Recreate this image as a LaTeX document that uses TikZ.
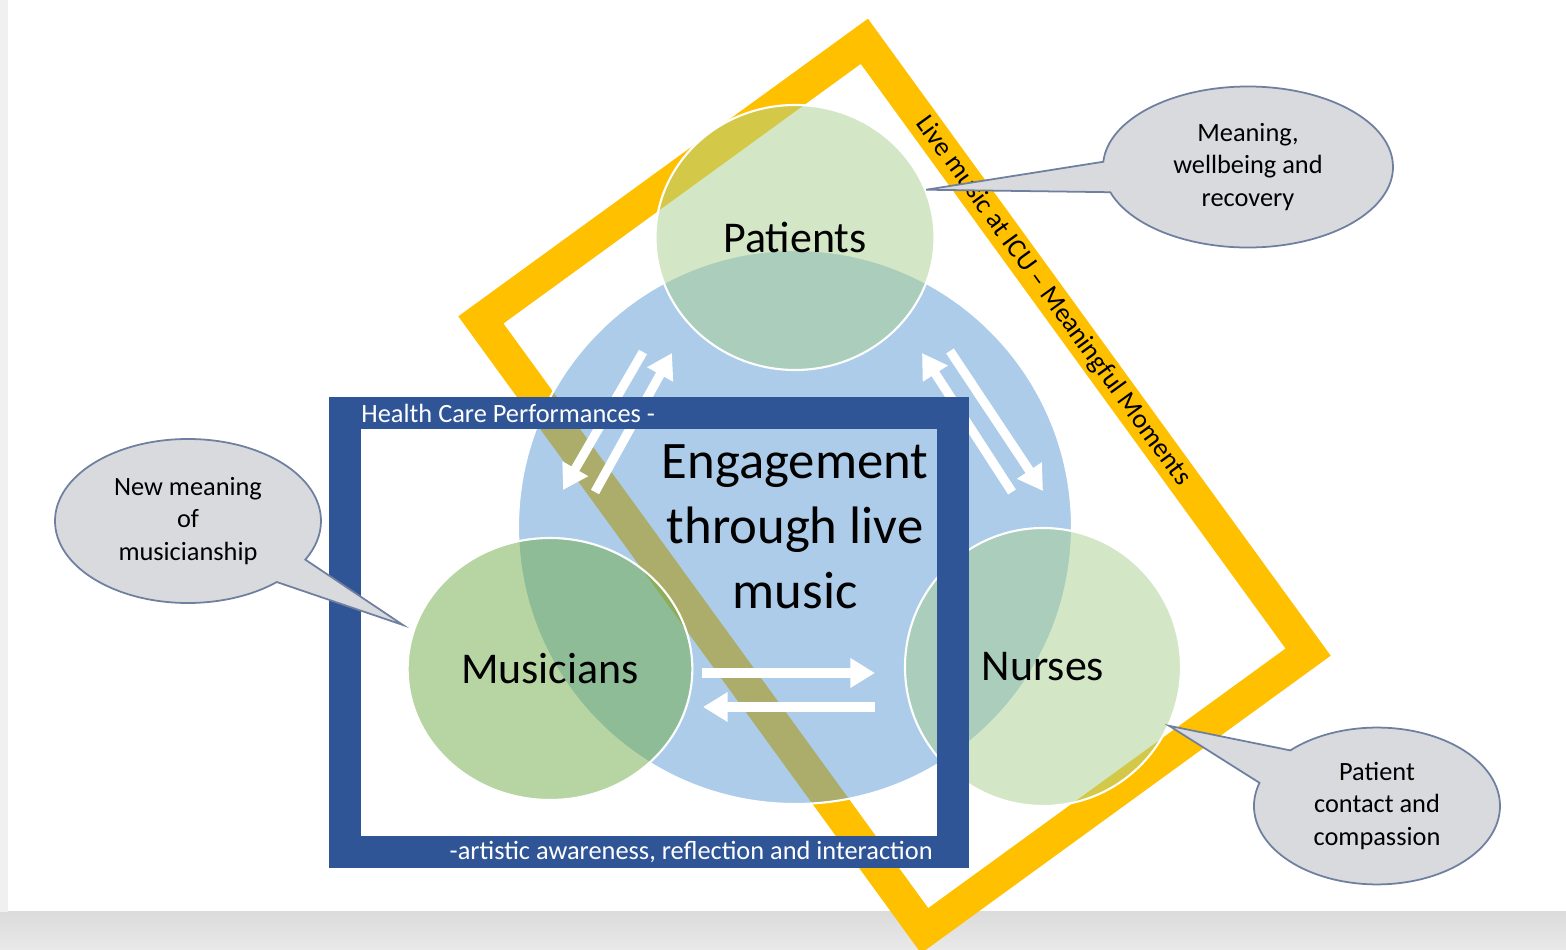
\documentclass[tikz,border=0pt]{standalone}
\usepackage{fontspec}
\setmainfont{Carlito}
\usetikzlibrary{arrows.meta,calc,shapes.geometric,shapes.callouts}

\definecolor{bandyellow}{HTML}{FFC000}
\definecolor{engageblue}{HTML}{5B9BD5}
\definecolor{palegreen}{HTML}{A9D18E}
\definecolor{deepgreen}{HTML}{70AD47}
\definecolor{hcnavy}{HTML}{2F5597}
\definecolor{bubblefill}{HTML}{D9DADD}
\definecolor{bubbleline}{HTML}{6E7FA0}

\begin{document}
\begin{tikzpicture}[
  actor/.style={ellipse, draw=white, line width=.6pt, fill opacity=.5, text opacity=1, font=\fontsize{12.5}{15}\selectfont},
  bubble/.style={ellipse callout, draw=bubbleline, line width=.5pt, fill=bubblefill, align=center, font=\fontsize{7.5}{9.25}\selectfont},
  flow/.style={white, line width=2.6pt, -{Triangle[width=8pt,length=7pt]}},
  smalltext/.style={font=\fontsize{7.5}{9}\selectfont}
]

\useasboundingbox (0,0) rectangle (15.66cm,-9.5cm);
\fill [white] (0,0) rectangle (15.66cm,-9.5cm);
\shade [top color=gray!28, bottom color=gray!17] (0,-9.12cm) rectangle (15.66cm,-9.5cm);
\fill [gray!12] (0,0) rectangle (.08cm,-9.12cm);

%-----------------------------------------------------
% ICU frame
\node (icuframe) at(8.945cm,-4.86cm) [draw=bandyellow, line width=9.2pt, outer sep=0pt, minimum width=7.55cm, minimum height=4.74cm, rotate=-54]{};
\node (icutext) at($(icuframe.north)!.15!(icuframe.north west)$) [rotate=-54, font=\fontsize{7.7}{9}\selectfont] {Live music at ICU -- Meaningful Moments};

%-----------------------------------------------------
\node (engage) at(7.95cm,-5.27cm) [circle, minimum size=5.54cm, fill=engageblue, fill opacity=.5, text opacity=1, draw=white, line width=.6pt, align=center, font=\fontsize{15}{18.5}\selectfont] {Engagement\\through live\\music};

\node (patients) at(7.95cm,-2.375cm) [actor, fill=palegreen, minimum width=2.79cm, minimum height=2.65cm] {Patients};
\node (musicians) at(5.50cm,-6.69cm) [actor, fill=deepgreen, minimum width=2.75cm, minimum height=2.62cm] {Musicians};
\node (nurses) at(10.43cm,-6.67cm) [actor, fill=palegreen, minimum width=2.76cm, minimum height=2.78cm] {Nurses};

%-----------------------------------------------------
\coordinate (pmtop) at(6.43cm,-3.52cm);
\coordinate (pmbot) at(5.63cm,-4.90cm);
\coordinate (mptail) at(5.95cm,-4.92cm);
\coordinate (mphead) at(6.72cm,-3.53cm);
\draw [flow] (pmtop) -- (pmbot);
\draw [flow] (mptail) -- (mphead);

\coordinate (nptail) at(10.12cm,-4.92cm);
\coordinate (nphead) at(9.22cm,-3.53cm);
\coordinate (pntail) at(9.50cm,-3.51cm);
\coordinate (pnhead) at(10.43cm,-4.91cm);
\draw [flow] (nptail) -- (nphead);
\draw [flow] (pntail) -- (pnhead);

\coordinate (mntail) at(7.02cm,-6.73cm);
\coordinate (mnhead) at(8.75cm,-6.73cm);
\coordinate (nmtail) at(8.75cm,-7.07cm);
\coordinate (nmhead) at(7.03cm,-7.07cm);
\draw [flow] (mntail) -- (mnhead);
\draw [flow] (nmtail) -- (nmhead);

%-----------------------------------------------------
% Health care frame
\node (hcframe) at(6.49cm,-6.325cm) [draw=hcnavy, line width=9.1pt, outer sep=0pt, minimum width=6.08cm, minimum height=4.39cm]{};
\node (hctop) at(hcframe.north west) [anchor=west, xshift=.04cm, text=white, smalltext] {Health Care Performances -};
\node (hcbottom) at(hcframe.south east) [anchor=east, xshift=-.08cm, text=white, smalltext] {-artistic awareness, reflection and interaction};

%-----------------------------------------------------
\coordinate (musictip) at(4.03cm,-6.25cm);
\node (meaning) at(12.48cm,-1.67cm) [bubble, minimum width=2.9cm, minimum height=1.61cm, callout absolute pointer={(patients.20)}, callout pointer arc=22] {Meaning,\\wellbeing and\\recovery};
\node (newmeaning) at(1.88cm,-5.21cm) [bubble, minimum width=2.66cm, minimum height=1.64cm, callout absolute pointer={(musictip)}, callout pointer arc=20] {New meaning\\of\\musicianship};
\node (contact) at(13.77cm,-8.06cm) [bubble, minimum width=2.46cm, minimum height=1.32cm, callout absolute pointer={(nurses.335)}, callout pointer arc=28] {Patient\\contact and\\compassion};

\end{tikzpicture}
\end{document}
